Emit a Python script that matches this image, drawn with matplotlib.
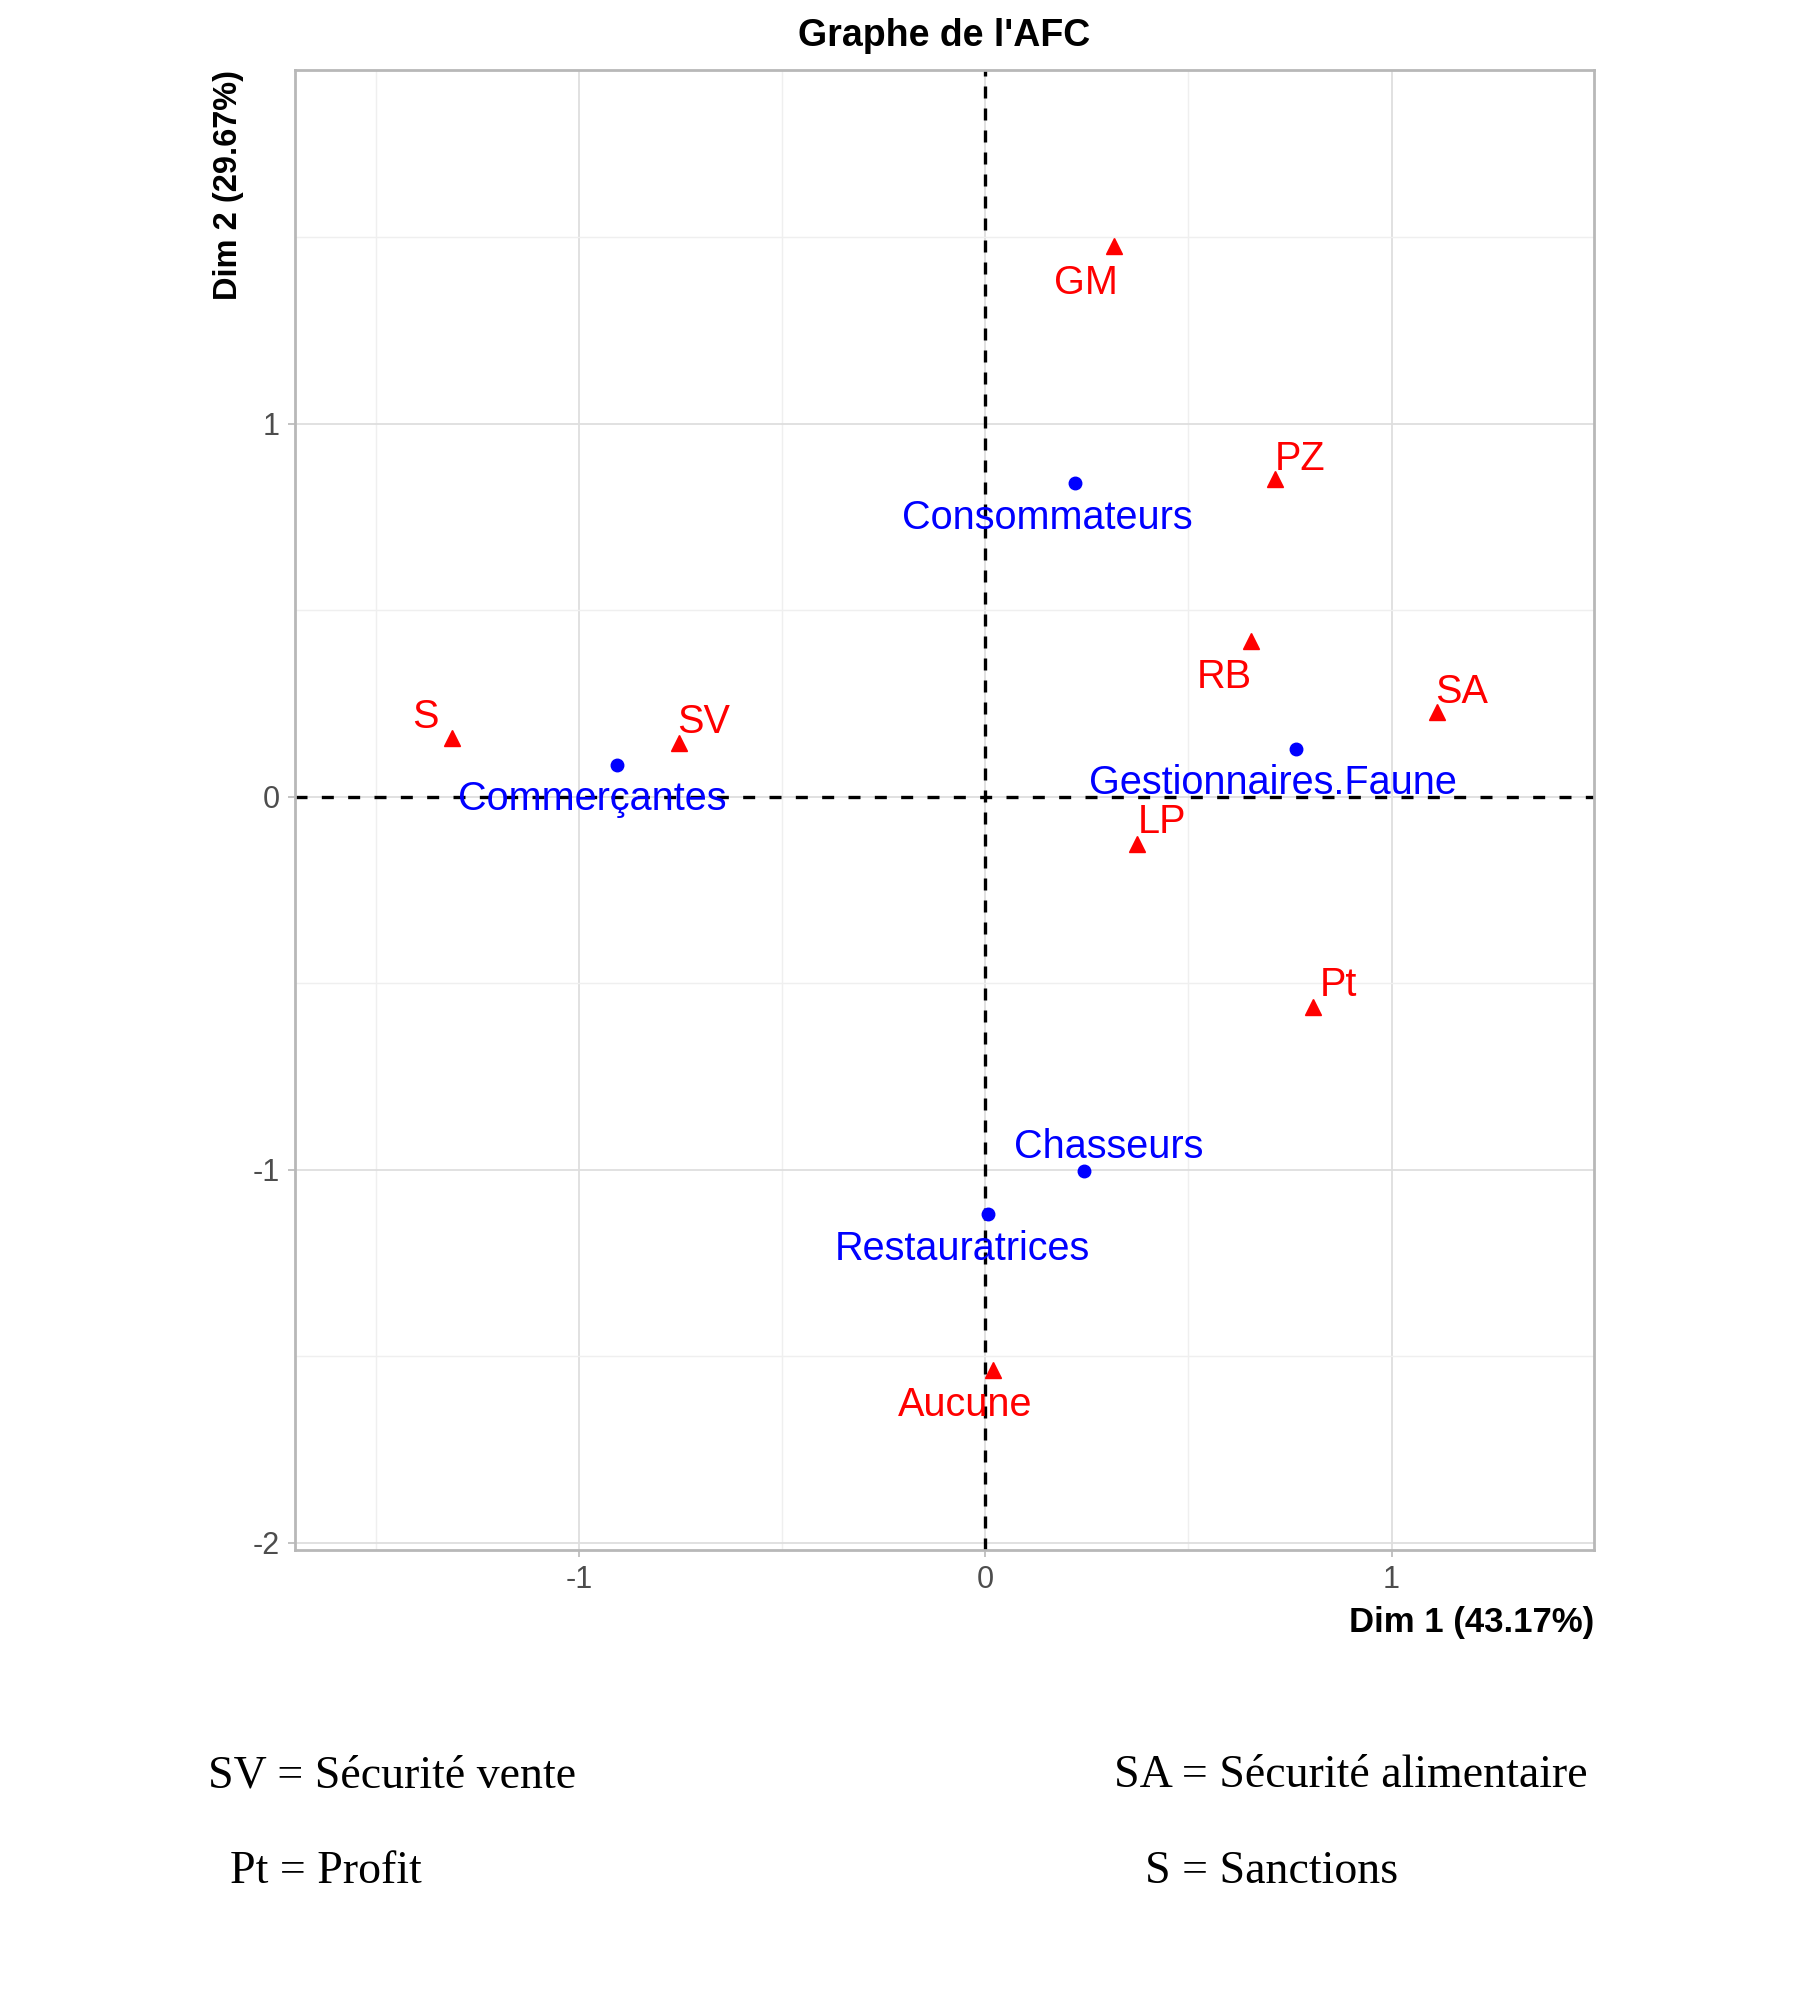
import matplotlib.pyplot as plt
from matplotlib.ticker import MultipleLocator

# Row categories (blue) and column categories (red) of the CA map
row_names = ["Consommateurs", "Gestionnaires.Faune", "Commerçantes", "Chasseurs", "Restauratrices"]
row_dim1 = [0.220, 0.766, -0.907, 0.242, 0.006]
row_dim2 = [0.842, 0.127, 0.086, -1.003, -1.120]

col_names = ["GM", "PZ", "RB", "SA", "S", "SV", "LP", "Pt", "Aucune"]
col_dim1 = [0.317, 0.713, 0.653, 1.111, -1.312, -0.754, 0.374, 0.807, 0.019]
col_dim2 = [1.476, 0.853, 0.418, 0.226, 0.158, 0.144, -0.127, -0.565, -1.538]

# label offsets (points), like ggrepel placed them
row_offsets = [(-20, -25), (-17, -24), (-18, -25), (18, 17), (-18, -25)]
col_offsets = [(-20, -26), (18, 14), (-19, -26), (18, 15), (-19, 15), (18, 15), (18, 16), (18, 16), (-20, -25)]

legend_left = ["SV = Sécurité vente", "Pt = Profit"]
legend_right = ["SA = Sécurité alimentaire", "S = Sanctions"]

plt.rcParams['font.family'] = ['Liberation Sans', 'DejaVu Sans']
plt.rcParams['axes.unicode_minus'] = False

fig = plt.figure(figsize=(18.01, 20.01), dpi=100)
ax = fig.add_axes([0.1638, 0.2254, 0.7212, 0.7396])

ax.set_xlim(-1.699, 1.498)
ax.set_ylim(-2.02, 1.949)

# grid like ggplot theme_light
ax.xaxis.set_major_locator(MultipleLocator(1))
ax.yaxis.set_major_locator(MultipleLocator(1))
ax.xaxis.set_minor_locator(MultipleLocator(0.5))
ax.yaxis.set_minor_locator(MultipleLocator(0.5))
ax.grid(True, which='major', color='#DEDEDE', linewidth=1.3)
ax.grid(True, which='minor', color='#EFEFEF', linewidth=1.0)
ax.set_axisbelow(True)
for sp in ax.spines.values():
    sp.set_color('#B8B8B8')
    sp.set_linewidth(2)
ax.tick_params(which='major', length=5, width=1.2, color='#B8B8B8', labelsize=22, labelcolor='#4D4D4D', pad=6)
ax.tick_params(which='minor', length=0)

ax.axhline(0, color='black', linestyle=(0, (3.6, 4.3)), linewidth=2.4)
ax.axvline(0, color='black', linestyle=(0, (3.6, 3.0)), linewidth=2.4)

ax.plot(row_dim1, row_dim2, 'o', color='#0000FF', markersize=9, linestyle='none')
ax.plot(col_dim1, col_dim2, '^', color='#FF0000', markersize=11, linestyle='none')

for name, x, y, off in zip(row_names, row_dim1, row_dim2, row_offsets):
    ax.annotate(name, xy=(x, y), xytext=off, textcoords='offset points',
                ha='center', va='center', color='#0000FF', fontsize=28.5)
for name, x, y, off in zip(col_names, col_dim1, col_dim2, col_offsets):
    ax.annotate(name, xy=(x, y), xytext=off, textcoords='offset points',
                ha='center', va='center', color='#FF0000', fontsize=28.5)

ax.set_title("Graphe de l'AFC", fontsize=27, fontweight='bold', pad=17)
ax.set_xlabel("Dim 1 (43.17%)", fontsize=25, fontweight='bold', loc='right', labelpad=8)
ax.set_ylabel("Dim 2 (29.67%)", fontsize=23.5, fontweight='bold', loc='top', labelpad=6)

# abbreviations under the plot
serif = ['Liberation Serif', 'DejaVu Serif']
fig.text(208 / 1801, 1 - 1776 / 2001, legend_left[0], family=serif, fontsize=33, va='center', ha='left')
fig.text(230 / 1801, 1 - 1872 / 2001, legend_left[1], family=serif, fontsize=33, va='center', ha='left')
fig.text(1114 / 1801, 1 - 1776 / 2001, legend_right[0], family=serif, fontsize=33, va='center', ha='left')
fig.text(1145 / 1801, 1 - 1872 / 2001, legend_right[1], family=serif, fontsize=33, va='center', ha='left')

fig.savefig("out.png", dpi=100, facecolor='white')
